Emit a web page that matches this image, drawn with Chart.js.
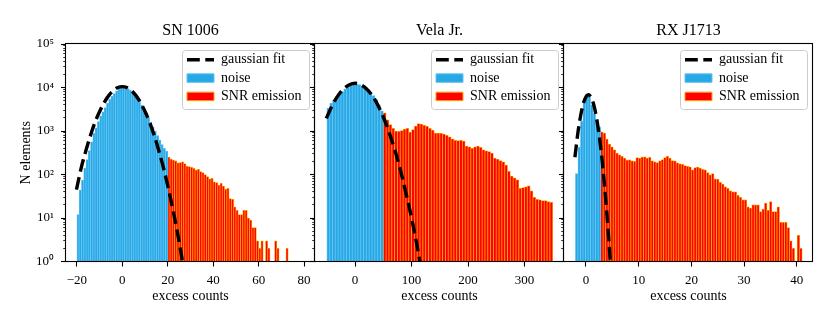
<!DOCTYPE html>
<html>
<head>
<meta charset="utf-8">
<script src="https://cdn.jsdelivr.net/npm/chart.js@4.4.0/dist/chart.umd.min.js"></script>
<style>
  html, body { margin: 0; padding: 0; background: #fff; }
  #wrap { position: relative; width: 830px; height: 312px; }
  #wrap canvas { position: absolute; left: 0; top: 0; }
</style>
</head>
<body>
<div id="wrap">
  <canvas id="c1" width="830" height="312"></canvas>
  <canvas id="c2" width="830" height="312"></canvas>
  <canvas id="c3" width="830" height="312"></canvas>
</div>
<script>
// ---- SN 1006 (bins of 1 count, starting at -20) ----
const snBinStart = -20, snBinWidth = 1;
const snNoise = [12, 44, 74, 140, 220, 356, 563, 887, 1190, 1640,
  2220, 2770, 3450, 4300, 5350, 6280, 7270, 8400, 9660, 10200,
  10600, 10100, 9500, 8700, 7800, 6900, 5900, 4900, 3950, 3200,
  2550, 2000, 1600, 1250, 980, 780, 620, 490, 400, 340];
const snEmission = [250, 225, 215, 205, 185, 188, 195, 178, 157, 152,
  146, 138, 126, 131, 116, 110, 100, 90, 80, 82,
  68, 65, 57, 63, 54, 46, 48, 28, 27, 18,
  15, 12, 12, 15, 15, 10, 9, 6, 6, 3,
  2, 3, 1, 3, 2, 0, 0, 3, 2, 0,
  1, 0, 2];
const snFitX = [-20.2, -18, -16, -14, -12, -10, -8, -6, -4, -2, 0, 2, 4, 6, 8, 10, 12, 14, 16, 18, 20, 22, 24, 26, 27];
const snFitY = [45, 150, 360, 800, 1600, 2800, 4500, 6500, 8500, 10000, 10500, 10000, 8500, 6500, 4500, 2800, 1600, 800, 360, 150, 55, 18, 5.5, 1.4, 0.7];

// ---- Vela Jr. (bins of 5, starting at -50) ----
const velaBinStart = -50, velaBinWidth = 5;
const velaNoise = [3300, 4300, 5100, 6100, 7100, 8100, 9300, 10400, 11300, 12000,
  12100, 11600, 10900, 10000, 8900, 7700, 6500, 5300, 4000, 2900];
const velaEmission = [2600, 1800, 1400, 1150, 1000, 980, 1020, 1100, 1150, 950,
  1080, 1300, 1480, 1450, 1350, 1280, 1150, 1050, 900, 900,
  880, 850, 800, 730, 660, 610, 600, 610, 590, 450,
  430, 400, 430, 450, 420, 370, 350, 335, 310, 240,
  225, 210, 195, 165, 118, 92, 84, 75, 48, 50,
  52, 55, 42, 30, 27, 26, 25, 25, 24, 23];
const velaFitX = [-51, -45, -40, -30, -20, -10, 0, 10, 20, 30, 40, 50, 60, 70, 80, 90, 100, 110, 116];
const velaFitY = [1950, 2900, 4000, 6600, 9400, 11600, 12500, 11600, 9400, 6600, 4000, 2100, 950, 380, 130, 38, 10, 2.2, 0.8];

// ---- RX J1713 (bins of 0.478, starting at -2) ----
const rxBinStart = -2, rxBinWidth = 0.478;
const rxNoise = [105, 420, 1700, 4500, 7000, 6200, 4000, 2500, 1750, 1250];
const rxEmission = [960, 900, 650, 500, 430, 370, 310, 285, 262, 240,
  215, 218, 205, 200, 245, 238, 250, 255, 240, 248,
  205, 195, 188, 205, 220, 245, 262, 240, 210, 205,
  185, 175, 172, 160, 155, 150, 128, 145, 148, 140,
  132, 128, 110, 98, 105, 80, 78, 66, 60, 52,
  48, 42, 40, 40, 33, 30, 26, 26, 18, 17,
  20, 20, 20, 14, 16, 22, 15, 24, 14, 14,
  18, 8, 8, 8, 6, 3, 2, 1, 4, 2];
const rxFitX = [-2.1, -1.5, -1, -0.5, 0, 0.45, 1, 1.5, 2, 2.5, 3, 3.5, 4, 4.5, 4.7];
const rxFitY = [250, 980, 2300, 4300, 6100, 6800, 5800, 3900, 2000, 800, 250, 60, 11, 1.6, 0.7];

const titles = ['SN 1006', 'Vela Jr.', 'RX J1713'];
const legendLabels = ['gaussian fit', 'noise', 'SNR emission'];
const superscripts = ['\u2070', '\u00b9', '\u00b2', '\u00b3', '\u2074', '\u2075'];

const NOISE_FILL = '#27a8e6';
const NOISE_EDGE = '#62c3f2';
const SNR_FILL = '#ff0000';
const SNR_EDGE = '#ffa500';

Chart.defaults.font.family = "'Liberation Serif', 'Times New Roman', serif";
Chart.defaults.color = '#000';

// log ticks: 1..9 per decade, majors at powers of ten
const logTicks = [];
for (let e = 0; e < 5; e++) {
  for (let m = 1; m < 10; m++) logTicks.push({ value: m * Math.pow(10, e), major: m === 1, exp: e });
}
logTicks.push({ value: 1e5, major: true, exp: 5 });

const toBins = (start, width, offset, counts) =>
  counts.map((c, i) => ({ x: start + width * (offset + i + 0.5), y: c })).filter(p => p.y > 0);

const fmtX = v => (v < 0 ? '\u2212' + Math.abs(v) : String(v));

// legend frame, top-right inside the axes
const frameOf = ca => ({ x: ca.right - 6 - 127, y: ca.top + 6, w: 127, h: 59 });

const panelDecor = {
  id: 'panelDecor',
  afterLayout(chart) {
    const lg = chart.legend;
    const ca = chart.chartArea;
    const fr = frameOf(ca);
    const pad = lg.options.labels.padding;
    lg.left = fr.x + 5 - pad;
    lg.top = fr.y + 2.8 - pad;
    lg.right = lg.left + lg.width;
    lg.bottom = ca.bottom;
    lg.height = lg.bottom - lg.top;
  },
  beforeDraw(chart) {
    const ctx = chart.ctx;
    const fr = frameOf(chart.chartArea);
    ctx.save();
    ctx.beginPath();
    ctx.roundRect(fr.x + 0.5, fr.y + 0.5, fr.w, fr.h, 3);
    ctx.fillStyle = 'rgba(255,255,255,0.8)';
    ctx.fill();
    ctx.strokeStyle = '#cccccc';
    ctx.lineWidth = 1;
    ctx.stroke();
    ctx.restore();
  },
  afterDraw(chart) {
    const { ctx, chartArea: ca } = chart;
    ctx.save();
    ctx.strokeStyle = '#000';
    ctx.lineWidth = 1.1;
    ctx.strokeRect(Math.round(ca.left) - 0.5, Math.round(ca.top) - 0.5,
      Math.round(ca.right) - Math.round(ca.left), Math.round(ca.bottom) - Math.round(ca.top));
    ctx.restore();
  }
};

const legendItems = chart => {
  const items = Chart.defaults.plugins.legend.labels.generateLabels(chart);
  items.forEach(it => {
    const ds = chart.data.datasets[it.datasetIndex];
    if (ds.type === 'line') {
      it.pointStyle = 'line';
      it.lineDash = ds.borderDash;
      it.lineWidth = ds.borderWidth;
      it.strokeStyle = ds.borderColor;
    } else {
      it.pointStyle = 'rect';
      it.fillStyle = ds.backgroundColor;
      it.strokeStyle = ds.borderColor;
      it.lineWidth = 1;
    }
  });
  return items;
};

function drawPanel(p) {
  const yAxisW = p.showY ? 56 : 6;
  const barStyle = { grouped: false, barPercentage: 1, categoryPercentage: 1, borderWidth: 0.75 };

  new Chart(document.getElementById(p.canvas), {
    type: 'bar',
    data: {
      datasets: [
        {
          type: 'line', label: legendLabels[0],
          data: p.fitX.map((x, i) => ({ x, y: p.fitY[i] })),
          borderColor: '#000', borderWidth: 3.4, borderDash: [12.8, 5.5],
          pointRadius: 0, fill: false, cubicInterpolationMode: 'monotone', clip: 0
        },
        Object.assign({ label: legendLabels[1], data: toBins(p.binStart, p.binWidth, 0, p.noise),
          backgroundColor: NOISE_FILL, borderColor: NOISE_EDGE }, barStyle),
        Object.assign({ label: legendLabels[2], data: toBins(p.binStart, p.binWidth, p.noise.length, p.snr),
          backgroundColor: SNR_FILL, borderColor: SNR_EDGE }, barStyle)
      ]
    },
    options: {
      responsive: false,
      animation: false,
      events: [],
      layout: { padding: { left: p.left - yAxisW, right: 830 - p.right, top: 20, bottom: 0 } },
      scales: {
        x: {
          type: 'linear', min: p.xMin, max: p.xMax, offset: false,
          afterFit: s => { s.height = 50.5; },
          grid: { drawOnChartArea: false, drawTicks: true, tickLength: 5, tickWidth: 1.1, tickColor: '#000', offset: false },
          border: { display: false },
          ticks: { stepSize: p.step, includeBounds: false, autoSkip: false, maxRotation: 0, padding: 6,
            font: { size: 13 }, callback: v => fmtX(v) },
          title: { display: true, text: 'excess counts', font: { size: 14 }, padding: { top: 0, bottom: 7 } }
        },
        y: {
          type: 'logarithmic', min: 1, max: 1e5,
          afterFit: s => { s.width = yAxisW; },
          afterBuildTicks: s => { s.ticks = logTicks.map(t => ({ value: t.value, major: t.major, exp: t.exp })); },
          grid: {
            drawOnChartArea: false, drawTicks: true, tickLength: 5, tickColor: '#000',
            tickWidth: c => (c.tick && c.tick.major ? 1.1 : 0.8),
            tickBorderDash: c => (c.tick && c.tick.major ? [] : [0, 2.2, 2.8, 20])
          },
          border: { display: false },
          ticks: {
            autoSkip: false, padding: 7, font: { size: 13 },
            callback: (v, i, t) => (p.showY && t[i].major ? '10' + superscripts[t[i].exp] : '')
          },
          title: { display: p.showY, text: 'N elements', font: { size: 14 }, padding: { top: 8, bottom: 0 } }
        }
      },
      plugins: {
        title: {
          display: true, text: p.title, fullSize: false, color: '#000',
          font: { size: 16, weight: 'normal', lineHeight: 1 }, padding: { top: 3, bottom: 5 }
        },
        legend: {
          position: 'chartArea', align: 'start',
          labels: { usePointStyle: true, pointStyleWidth: 27, boxHeight: 8.5, padding: 4.3,
            font: { size: 14 }, color: '#000', generateLabels: legendItems }
        },
        tooltip: { enabled: false }
      }
    },
    plugins: [panelDecor]
  });
}

drawPanel({ canvas: 'c1', title: titles[0], showY: true, left: 66, right: 315, xMin: -24.8, xMax: 84.8, step: 20,
  binStart: snBinStart, binWidth: snBinWidth, noise: snNoise, snr: snEmission, fitX: snFitX, fitY: snFitY });
drawPanel({ canvas: 'c2', title: titles[1], showY: false, left: 315, right: 564, xMin: -71, xMax: 370, step: 100,
  binStart: velaBinStart, binWidth: velaBinWidth, noise: velaNoise, snr: velaEmission, fitX: velaFitX, fitY: velaFitY });
drawPanel({ canvas: 'c3', title: titles[2], showY: false, left: 564, right: 813, xMin: -4.17, xMax: 43.07, step: 10,
  binStart: rxBinStart, binWidth: rxBinWidth, noise: rxNoise, snr: rxEmission, fitX: rxFitX, fitY: rxFitY });
</script>
</body>
</html>
